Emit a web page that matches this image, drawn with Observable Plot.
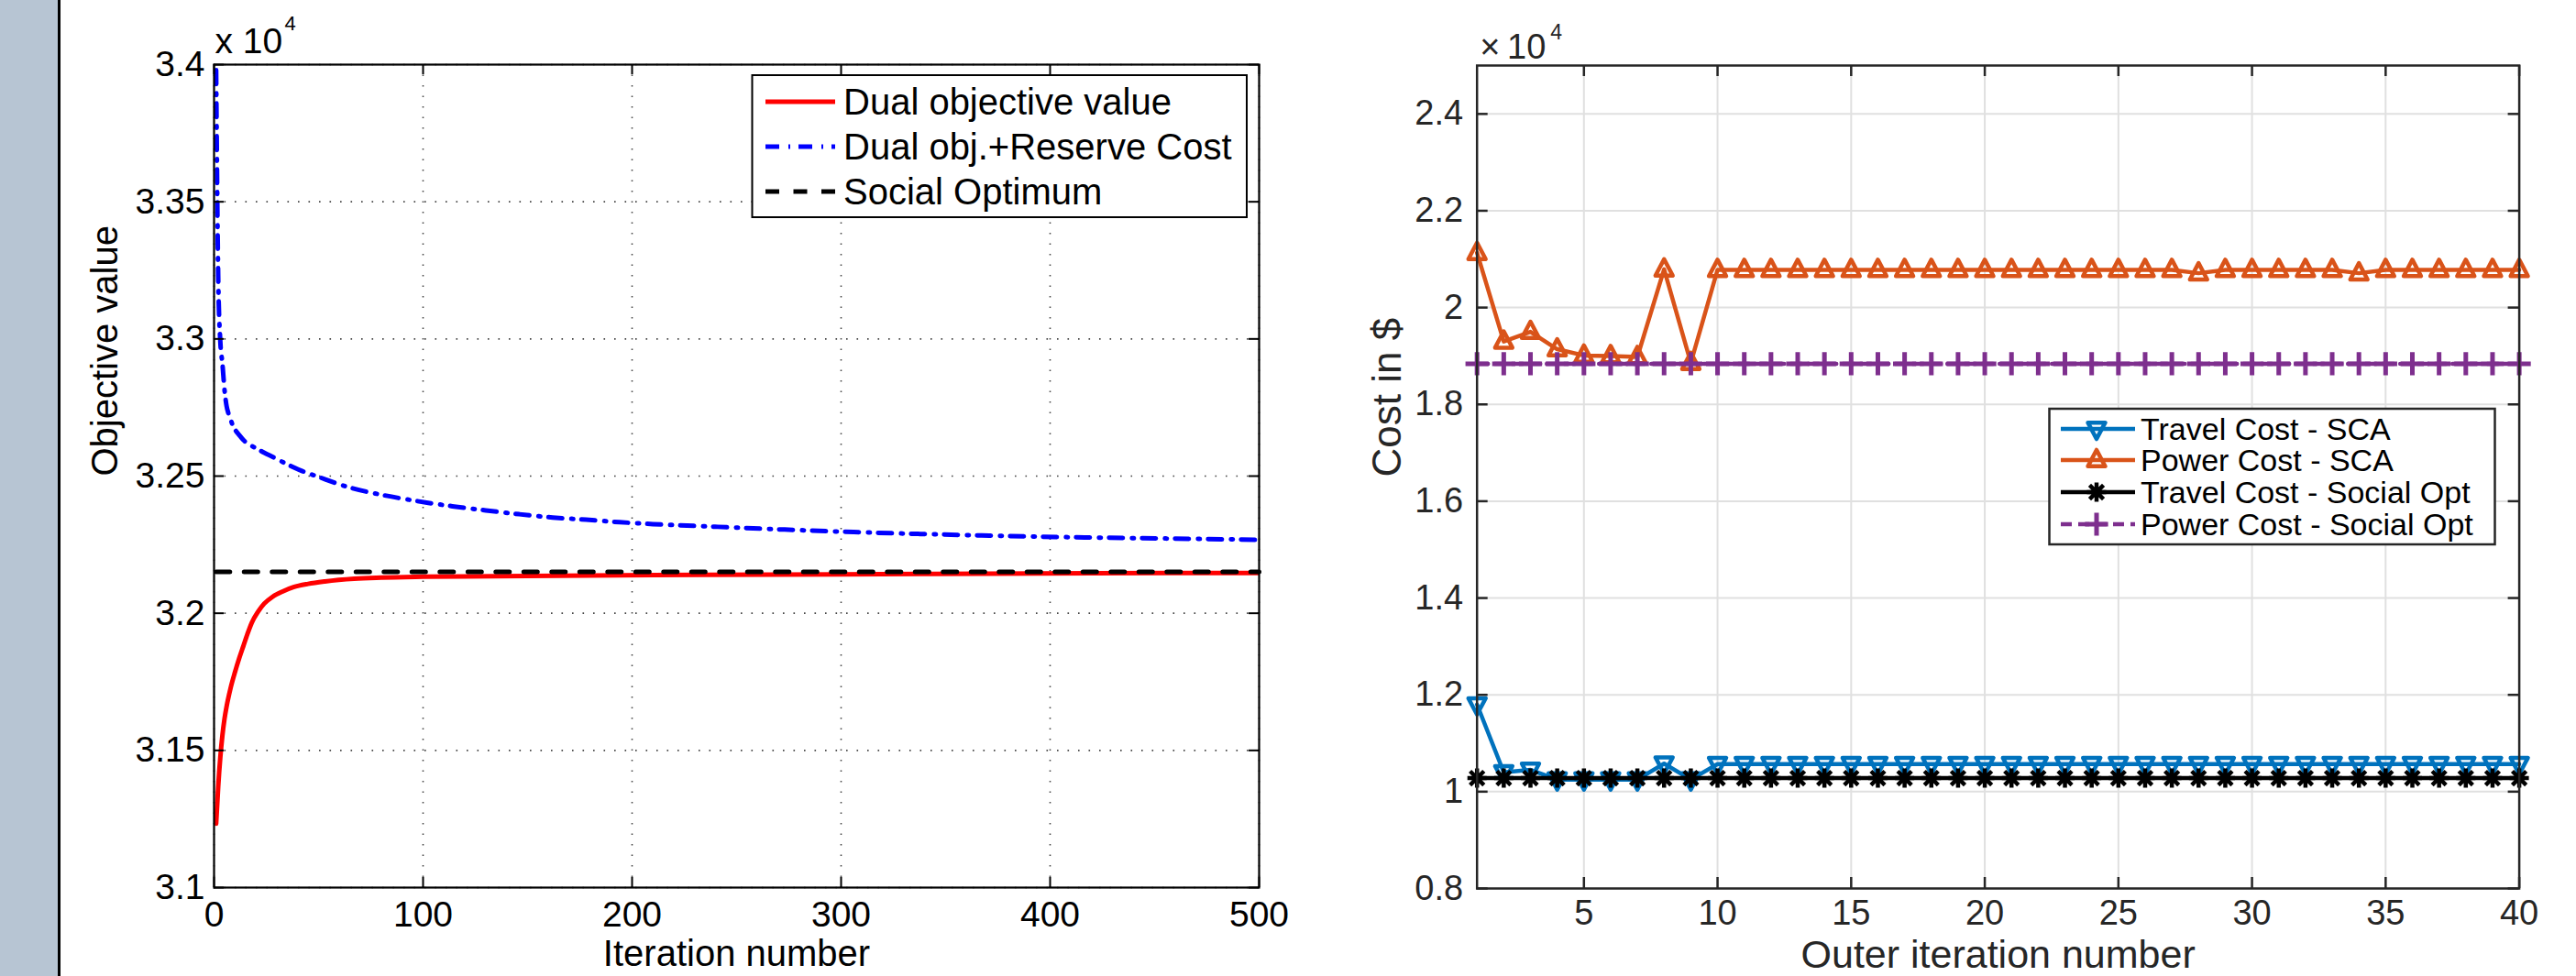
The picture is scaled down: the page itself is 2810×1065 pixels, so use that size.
<!DOCTYPE html>
<html><head><meta charset="utf-8">
<script src="https://cdn.jsdelivr.net/npm/d3@7"></script>
<script src="https://cdn.jsdelivr.net/npm/@observablehq/plot@0.6"></script>
<style>
html,body{margin:0;padding:0;background:#fff;}
#page{position:relative;width:2810px;height:1065px;overflow:hidden;background:#fff;}
#strip{position:absolute;left:0;top:0;width:63px;height:1065px;background:#b7c5d3;border-right:3px solid #000;}
#left{position:absolute;left:0;top:0;}
#right{position:absolute;left:1400px;top:0;}
#legends{position:absolute;left:0;top:0;}
</style></head>
<body><div id="page"><div id="strip"></div><div id="left"></div><div id="right"></div><svg id="legends" width="2810" height="1065"></svg></div>
<script>
// ---------------- LEFT CHART DATA (values in units of 10^4) ----------------
const dualIter = [1,2,3,4,5,6,8,10,12,14,16,18,21,24,28,33,38,45,53,67,80,100,150,210,300,420,500];
const dualObj  = [3.1233,3.137,3.1475,3.1555,3.1615,3.1660,3.1730,3.1785,3.1835,3.1880,3.1925,3.1965,3.2005,3.2035,3.2060,3.2080,3.2095,3.2107,3.2116,3.2126,3.2130,3.2133,3.2136,3.2139,3.2142,3.2146,3.2147];
const reserveIter = [1,2,3,4,5,6,7,8,9,10,12,14,17,20,24,28,35,42,50,65,80,97,114,130,146,162,178,194,210,241,273,306,338,371,404,420,460,500];
const reserveObj  = [3.398,3.322,3.299,3.291,3.2815,3.2755,3.2725,3.2705,3.2683,3.2670,3.2650,3.2632,3.2614,3.2602,3.2585,3.2570,3.2543,3.2519,3.2497,3.2458,3.2432,3.2409,3.2390,3.2375,3.2361,3.2349,3.2341,3.2332,3.2325,3.2315,3.2305,3.2296,3.2289,3.2283,3.2278,3.2276,3.2272,3.2268];
const socialIter = [1,500];
const socialObj  = [3.2151,3.2151];
const leftXTicks = [0,100,200,300,400,500];
const leftYTicks = [3.1,3.15,3.2,3.25,3.3,3.35,3.4];
const leftYTickLabels = ["3.1","3.15","3.2","3.25","3.3","3.35","3.4"];
const leftNames  = ["Dual objective value","Dual obj.+Reserve Cost","Social Optimum"];
const leftColors = ["#ff0000","#0000ff","#000000"];
const leftDash   = [null,"15,10,2,9","15,15.5"];
const leftXLabel = "Iteration number";
const leftYLabel = "Objective value";

// ---------------- RIGHT CHART DATA (values in units of 10^4) ----------------
const outerIter = [1,2,3,4,5,6,7,8,9,10,11,12,13,14,15,16,17,18,19,20,21,22,23,24,25,26,27,28,29,30,31,32,33,34,35,36,37,38,39,40];
const travelSCA = [1.180,1.040,1.045,1.025,1.025,1.025,1.025,1.058,1.025,1.057,1.057,1.057,1.057,1.057,1.057,1.057,1.057,1.057,1.057,1.057,1.057,1.057,1.057,1.057,1.057,1.057,1.057,1.057,1.057,1.057,1.057,1.057,1.057,1.057,1.057,1.057,1.057,1.057,1.057,1.057];
const powerSCA  = [2.113,1.930,1.950,1.914,1.901,1.900,1.898,2.079,1.886,2.078,2.078,2.078,2.078,2.078,2.078,2.078,2.078,2.078,2.078,2.078,2.078,2.078,2.078,2.078,2.078,2.078,2.078,2.071,2.078,2.078,2.078,2.078,2.078,2.071,2.078,2.078,2.078,2.078,2.078,2.078];
const travelSocial = [1.028,1.028,1.028,1.028,1.028,1.028,1.028,1.028,1.028,1.028,1.028,1.028,1.028,1.028,1.028,1.028,1.028,1.028,1.028,1.028,1.028,1.028,1.028,1.028,1.028,1.028,1.028,1.028,1.028,1.028,1.028,1.028,1.028,1.028,1.028,1.028,1.028,1.028,1.028,1.028];
const powerSocial  = [1.884,1.884,1.884,1.884,1.884,1.884,1.884,1.884,1.884,1.884,1.884,1.884,1.884,1.884,1.884,1.884,1.884,1.884,1.884,1.884,1.884,1.884,1.884,1.884,1.884,1.884,1.884,1.884,1.884,1.884,1.884,1.884,1.884,1.884,1.884,1.884,1.884,1.884,1.884,1.884];
const rightXTicks = [5,10,15,20,25,30,35,40];
const rightYTicks = [0.8,1,1.2,1.4,1.6,1.8,2,2.2,2.4];
const rightYTickLabels = ["0.8","1","1.2","1.4","1.6","1.8","2","2.2","2.4"];
const rightNames  = ["Travel Cost - SCA","Power Cost - SCA","Travel Cost - Social Opt","Power Cost - Social Opt"];
const rightColors = ["#0072BD","#D95319","#000000","#7E2F8E"];
const rightXLabel = "Outer iteration number";
const rightYLabel = "Cost in $";

const FONT = '"Liberation Sans", Arial, Helvetica, sans-serif';

// custom MATLAB-like marker symbols
const triUp = {draw(ctx, size){const s=Math.sqrt(size/Math.PI); ctx.moveTo(0,-1.05*s); ctx.lineTo(0.9*s,0.65*s); ctx.lineTo(-0.9*s,0.65*s); ctx.closePath();}};
const triDown = {draw(ctx, size){const s=Math.sqrt(size/Math.PI); ctx.moveTo(0,1.05*s); ctx.lineTo(0.9*s,-0.65*s); ctx.lineTo(-0.9*s,-0.65*s); ctx.closePath();}};
const plusSym = {draw(ctx, size){const s=Math.sqrt(size/Math.PI)*1.2; ctx.moveTo(-s,0); ctx.lineTo(s,0); ctx.moveTo(0,-s); ctx.lineTo(0,s);}};
const asterSym = {draw(ctx, size){const s=Math.sqrt(size/Math.PI); const d=s*0.72; ctx.moveTo(-s,0); ctx.lineTo(s,0); ctx.moveTo(0,-s); ctx.lineTo(0,s); ctx.moveTo(-d,-d); ctx.lineTo(d,d); ctx.moveTo(-d,d); ctx.lineTo(d,-d);}};
const rightSymbols = [triDown, triUp, asterSym, plusSym];
const rightMarkerWidth = [4.5,4.5,4.5,5];
const rightLineDash = [null,null,null,"12,7"];
const MR = 10.5;

// ---------------- LEFT CHART ----------------
{
  const W=1400, H=1065, mL=233, mR=27, mT=70, mB=97;
  const fw=W-mL-mR, fh=H-mT-mB, tk=11;
  const dual = dualIter.map((t,i)=>({t, v: dualObj[i]}));
  const reserve = reserveIter.map((t,i)=>({t, v: reserveObj[i]}));
  const social = socialIter.map((t,i)=>({t, v: socialObj[i]}));
  const chart = Plot.plot({
    width: W, height: H, marginLeft: mL, marginRight: mR, marginTop: mT, marginBottom: mB,
    style: {fontFamily: FONT, fontSize: "39px", color: "#000", background: "transparent", overflow: "visible"},
    x: {domain: [0,500], label: null},
    y: {domain: [3.1,3.4], label: null},
    marks: [
      Plot.ruleX(leftXTicks, {x: d=>d, stroke: "#444", strokeWidth: 1.6, strokeDasharray: "1.6,9.9"}),
      Plot.ruleY(leftYTicks, {y: d=>d, stroke: "#444", strokeWidth: 1.6, strokeDasharray: "1.6,9.9"}),
      Plot.line(reserve, {x: "t", y: "v", stroke: leftColors[1], strokeWidth: 5, strokeDasharray: leftDash[1], curve: "monotone-x", clip: true}),
      Plot.line(dual, {x: "t", y: "v", stroke: leftColors[0], strokeWidth: 5, curve: "monotone-x", clip: true}),
      Plot.line(social, {x: "t", y: "v", stroke: leftColors[2], strokeWidth: 5, strokeDasharray: leftDash[2]}),
      Plot.frame({stroke: "#000", strokeWidth: 2.2}),
      Plot.ruleX(leftXTicks, {x: d=>d, insetTop: fh-tk, stroke: "#000", strokeWidth: 2}),
      Plot.ruleX(leftXTicks, {x: d=>d, insetBottom: fh-tk, stroke: "#000", strokeWidth: 2}),
      Plot.ruleY(leftYTicks, {y: d=>d, insetRight: fw-tk, stroke: "#000", strokeWidth: 2}),
      Plot.ruleY(leftYTicks, {y: d=>d, insetLeft: fw-tk, stroke: "#000", strokeWidth: 2}),
      Plot.axisX({ticks: leftXTicks, tickSize: 0, tickPadding: 15, label: null, tickFormat: d=>String(d)}),
      Plot.axisY({ticks: leftYTicks, tickSize: 0, tickPadding: 10, label: null, tickFormat: d=>leftYTickLabels[leftYTicks.indexOf(d)]}),
      Plot.text([leftXLabel], {text: d=>d, frameAnchor: "bottom", dy: 85, lineAnchor: "bottom", fontSize: 40}),
      Plot.text([leftYLabel], {text: d=>d, frameAnchor: "left", dx: -106, rotate: -90, lineAnchor: "bottom", fontSize: 40}),
      Plot.text(["x 10"], {text: d=>d, frameAnchor: "top-left", textAnchor: "start", dx: 1, dy: -13, lineAnchor: "bottom", fontSize: 39}),
      Plot.text(["4"], {text: d=>d, frameAnchor: "top-left", textAnchor: "start", dx: 77, dy: -38, lineAnchor: "bottom", fontSize: 22})
    ]
  });
  document.getElementById("left").appendChild(chart);
}

// ---------------- RIGHT CHART ----------------
{
  const W=1410, H=1065, mL=210.7, mR=62.4, mT=71, mB=96;
  const fw=W-mL-mR, fh=H-mT-mB, tk=12, ink="#262626";
  const series = [travelSCA, powerSCA, travelSocial, powerSocial];
  const marks = [
    Plot.ruleX(rightXTicks, {x: d=>d, stroke: "#e0e0e0", strokeWidth: 2}),
    Plot.ruleY(rightYTicks, {y: d=>d, stroke: "#e0e0e0", strokeWidth: 2})
  ];
  series.forEach((vals, k) => {
    const data = outerIter.map((t,i)=>({t, v: vals[i]}));
    marks.push(Plot.line(data, {x: "t", y: "v", stroke: rightColors[k], strokeWidth: 4.5, strokeDasharray: rightLineDash[k]}));
    marks.push(Plot.dot(data, {x: "t", y: "v", symbol: rightSymbols[k], r: MR, fill: "none", stroke: rightColors[k], strokeWidth: rightMarkerWidth[k], strokeLinejoin: "round"}));
  });
  marks.push(
    Plot.frame({stroke: ink, strokeWidth: 2.5}),
    Plot.ruleX(rightXTicks, {x: d=>d, insetTop: fh-tk, stroke: ink, strokeWidth: 2.5}),
    Plot.ruleX(rightXTicks, {x: d=>d, insetBottom: fh-tk, stroke: ink, strokeWidth: 2.5}),
    Plot.ruleY(rightYTicks, {y: d=>d, insetRight: fw-tk, stroke: ink, strokeWidth: 2.5}),
    Plot.ruleY(rightYTicks, {y: d=>d, insetLeft: fw-tk, stroke: ink, strokeWidth: 2.5}),
    Plot.axisX({ticks: rightXTicks, tickSize: 0, tickPadding: 13, label: null, tickFormat: d=>String(d), fill: ink}),
    Plot.axisY({ticks: rightYTicks, tickSize: 0, tickPadding: 15, label: null, tickFormat: d=>rightYTickLabels[rightYTicks.indexOf(d)], fill: ink}),
    Plot.text([rightXLabel], {text: d=>d, frameAnchor: "bottom", dy: 86.8, lineAnchor: "bottom", fontSize: 43, fill: ink}),
    Plot.text([rightYLabel], {text: d=>d, frameAnchor: "left", dx: -83, rotate: -90, lineAnchor: "bottom", fontSize: 44, fill: ink}),
    Plot.text(["\u00d7\u200910"], {text: d=>d, frameAnchor: "top-left", textAnchor: "start", dx: 3, dy: -8, lineAnchor: "bottom", fontSize: 38, fill: ink}),
    Plot.text(["4"], {text: d=>d, frameAnchor: "top-left", textAnchor: "start", dx: 80, dy: -29, lineAnchor: "bottom", fontSize: 23, fill: ink})
  );
  const chart = Plot.plot({
    width: W, height: H, marginLeft: mL, marginRight: mR, marginTop: mT, marginBottom: mB,
    style: {fontFamily: FONT, fontSize: "38px", color: ink, background: "transparent", overflow: "visible"},
    x: {domain: [1,40], label: null},
    y: {domain: [0.8,2.5], label: null},
    marks
  });
  document.getElementById("right").appendChild(chart);
}

// ---------------- LEGENDS ----------------
{
  const svg = d3.select("#legends");
  // left legend
  const L = {x0: 820.5, y0: 82, x1: 1360, y1: 237, rows: [111,160,209], lx0: 835, lx1: 911, tx: 920, fs: 40};
  const g = svg.append("g");
  g.append("rect").attr("x", L.x0).attr("y", L.y0).attr("width", L.x1-L.x0).attr("height", L.y1-L.y0)
    .attr("fill", "#fff").attr("stroke", "#000").attr("stroke-width", 2);
  leftNames.forEach((name, i) => {
    const y = L.rows[i];
    g.append("line").attr("x1", L.lx0).attr("x2", L.lx1).attr("y1", y).attr("y2", y)
      .attr("stroke", leftColors[i]).attr("stroke-width", 5).attr("stroke-dasharray", leftDash[i]);
    g.append("text").attr("x", L.tx).attr("y", y + 14).attr("font-family", FONT).attr("font-size", L.fs)
      .attr("fill", "#000").text(name);
  });
  // right legend
  const R = {x0: 2235.5, y0: 446, x1: 2721.5, y1: 594, rows: [468,502,537,572], lx0: 2248, lx1: 2329, mx: 2287, tx: 2335, fs: 34};
  const h = svg.append("g");
  h.append("rect").attr("x", R.x0).attr("y", R.y0).attr("width", R.x1-R.x0).attr("height", R.y1-R.y0)
    .attr("fill", "#fff").attr("stroke", "#262626").attr("stroke-width", 2.5);
  rightNames.forEach((name, i) => {
    const y = R.rows[i];
    h.append("line").attr("x1", R.lx0).attr("x2", R.lx1).attr("y1", y).attr("y2", y)
      .attr("stroke", rightColors[i]).attr("stroke-width", 4.5).attr("stroke-dasharray", rightLineDash[i]);
    const p = d3.path(); rightSymbols[i].draw(p, Math.PI*MR*MR);
    h.append("path").attr("d", p.toString()).attr("transform", `translate(${R.mx},${y})`)
      .attr("fill", "none").attr("stroke", rightColors[i]).attr("stroke-width", rightMarkerWidth[i]).attr("stroke-linejoin", "round");
    h.append("text").attr("x", R.tx).attr("y", y + 12).attr("font-family", FONT).attr("font-size", R.fs)
      .attr("fill", "#000").text(name);
  });
}
</script>
</body></html>
